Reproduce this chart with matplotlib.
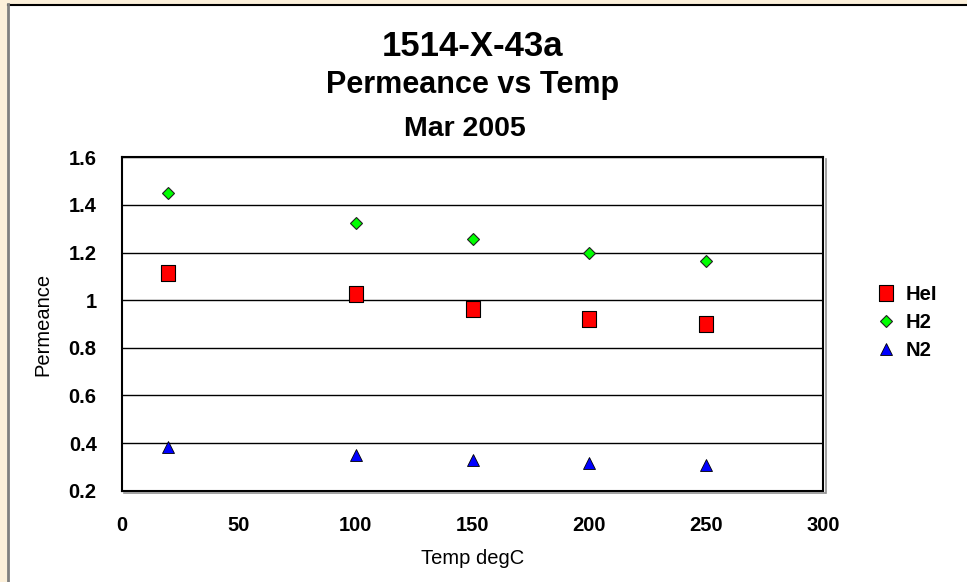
import numpy as np
import matplotlib.pyplot as plt
from matplotlib.lines import Line2D
from matplotlib.patches import Rectangle

plt.rcParams['font.family'] = ['Liberation Sans', 'DejaVu Sans']

# data
temp = [20, 100, 150, 200, 250]
hel = [1.116, 1.024, 0.965, 0.923, 0.898]
h2 = [1.450, 1.324, 1.259, 1.200, 1.166]
n2 = [0.385, 0.352, 0.327, 0.318, 0.310]
series_names = ['HeI', 'H2', 'N2']
x_ticks = [0, 50, 100, 150, 200, 250, 300]
y_ticks = [0.2, 0.4, 0.6, 0.8, 1.0, 1.2, 1.4, 1.6]
y_tick_labels = ['0.2', '0.4', '0.6', '0.8', '1', '1.2', '1.4', '1.6']

W, H = 967, 582
fig = plt.figure(figsize=(W / 100, H / 100), dpi=100)
fig.patch.set_facecolor('#FCF0DA')

# white chart panel
fig.patches.append(Rectangle((8 / W, 0), 1, 1 - 4 / H, transform=fig.transFigure,
                             facecolor='white', edgecolor='none', zorder=-5))
fig.lines.append(Line2D([8 / W, 1], [1 - 4.5 / H, 1 - 4.5 / H], transform=fig.transFigure,
                        color='black', lw=1.5))
fig.lines.append(Line2D([7.5 / W, 7.5 / W], [0, 1 - 4 / H], transform=fig.transFigure,
                        color='#808080', lw=2))

left, right, top, bottom = 121.7, 823.3, 157.3, 490.7
ax = fig.add_axes([left / W, 1 - bottom / H, (right - left) / W, (bottom - top) / H])

# slightly tall square marker like the original
sq = [(-7, -8), (7, -8), (7, 8), (-7, 8), (-7, -8)]
ax.plot(temp, hel, linestyle='none', marker=sq, markersize=11.5, markerfacecolor='#FF0000',
        markeredgecolor='black', markeredgewidth=0.8, label=series_names[0], zorder=3)
ax.plot(temp, h2, linestyle='none', marker='D', markersize=6.6, markerfacecolor='#00FF00',
        markeredgecolor='#202020', markeredgewidth=0.8, label=series_names[1], zorder=3)
ax.plot(temp, n2, linestyle='none', marker='^', markersize=8.6, markerfacecolor='#0000FF',
        markeredgecolor='black', markeredgewidth=0.6, label=series_names[2], zorder=3)

ax.set_xlim(0, 300)
ax.set_ylim(0.2, 1.6)
ax.set_xticks(x_ticks)
ax.set_yticks(y_ticks)
ax.set_yticklabels(y_tick_labels)
ax.tick_params(length=0, pad=18, labelsize=14.5)
for lab in ax.get_xticklabels() + ax.get_yticklabels():
    lab.set_fontweight('bold')
ax.yaxis.grid(True, color='black', lw=1)
ax.set_axisbelow(True)
for s in ax.spines.values():
    s.set_linewidth(1.5)
    s.set_color('black')

# shadow on right and bottom of the plot frame
fig.lines.append(Line2D([left / W + 2 / W, right / W + 2 / W], [1 - (bottom + 2.5) / H] * 2,
                        transform=fig.transFigure, color='#909090', lw=1.2))
fig.lines.append(Line2D([(right + 2.5) / W] * 2, [1 - (bottom + 2.5) / H, 1 - (top + 2) / H],
                        transform=fig.transFigure, color='#909090', lw=1.2))

ax.set_xlabel('Temp degC', fontsize=14.5, labelpad=10)
ax.set_ylabel('Permeance', fontsize=14.5, labelpad=12)

cx = (left + right) / 2 / W
fig.text(cx, 1 - 46.5 / H, '1514-X-43a', ha='center', va='center', fontsize=25, fontweight='bold')
fig.text(cx, 1 - 85.5 / H, 'Permeance vs Temp', ha='center', va='center', fontsize=22, fontweight='bold')
fig.text(465 / W, 1 - 129 / H, 'Mar 2005', ha='center', va='center', fontsize=20.5, fontweight='bold')

leg = fig.legend(loc='center left', bbox_to_anchor=(866 / W, 1 - 322.7 / H), frameon=False,
                 prop={'weight': 'bold', 'size': 14.5}, handletextpad=0.45, labelspacing=0.45,
                 handlelength=1.0, borderpad=0)

fig.savefig('out.png', dpi=100, facecolor=fig.get_facecolor())
